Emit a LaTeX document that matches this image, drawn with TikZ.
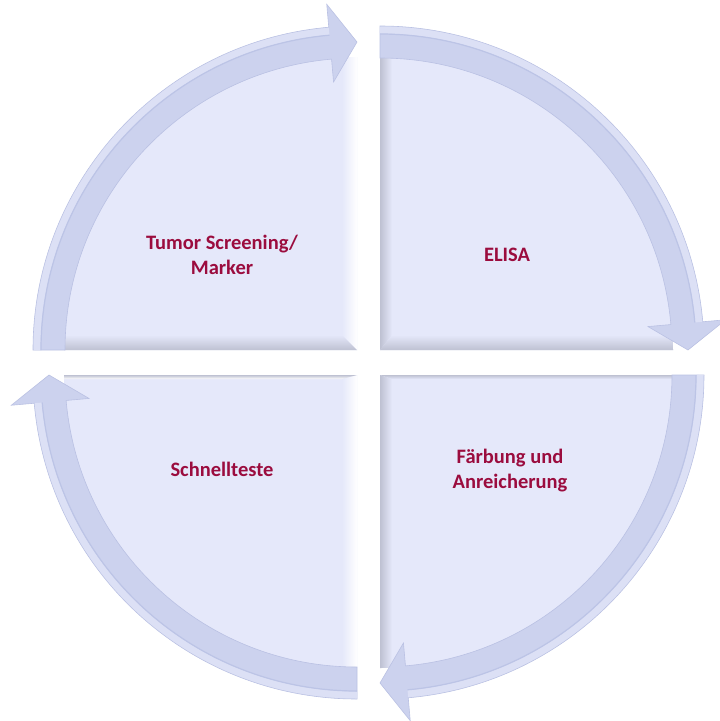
\documentclass[tikz,border=0pt]{standalone}
\usepackage{fontspec}
\setmainfont{Carlito}
\definecolor{sectbase}{RGB}{229,232,250}
\definecolor{sectshadow}{RGB}{190,193,210}
\definecolor{arrowfill}{RGB}{204,210,238}
\definecolor{arrowline}{RGB}{186,193,227}
\definecolor{arrowhigh}{RGB}{220,224,245}
\definecolor{arrowdark}{RGB}{188,196,230}
\definecolor{lbltext}{RGB}{155,12,62}
\tikzset{
  sectorfill/.style={fill=sectbase},
  arrowstyle/.style={fill=arrowfill, draw=arrowline, line width=0.6pt, line join=miter},
  highlight/.style={draw=arrowhigh, line width=7pt},
  darkline/.style={draw=arrowdark, line width=1.2pt},
  lbl/.style={font=\fontsize{20.5}{25}\selectfont\bfseries, text=lbltext, align=center}
}
\newcommand\mysectorclip[2]{%
  \pgfmathsetmacro\mysend{#2-90}%
  \clip (0,0) -- (#2:293pt) arc[start angle=#2, end angle=\mysend, radius=293pt] -- cycle;
  \fill[sectorfill] (-300pt,-300pt) rectangle (300pt,300pt);}
\newcommand\myarrow[2]{%
  \begin{scope}[shift={#1}]
    \pgfmathsetmacro\myend{#2-90}
    \pgfmathsetmacro\myhb{#2-85}
    \filldraw[arrowstyle] (#2:324pt) arc[start angle=#2, end angle=\myhb, radius=324pt]
      -- (\myhb:347pt) -- (\myend:308pt) -- (\myhb:269pt) -- (\myhb:292pt)
      arc[start angle=\myhb, end angle=#2, radius=292pt] -- cycle;
    \draw[highlight] (#2:320pt) arc[start angle=#2, end angle=\myhb, radius=320pt];
    \draw[darkline] (#2:316pt) arc[start angle=#2, end angle=\myhb, radius=316pt];
  \end{scope}}
\begin{document}
\begin{tikzpicture}[x=1pt,y=1pt]
\useasboundingbox (0,0) rectangle (720,-721);
\fill[white] (0,0) rectangle (720,-721);
% top-left sector
\begin{scope}[shift={(357pt,-350pt)}]
  \mysectorclip{0}{180}
  \shade[left color=sectbase, right color=white] (0,0) -- (0,300) -- (-15,300) -- (-15,15) -- cycle;
  \shade[top color=sectbase, bottom color=sectshadow] (0,0) -- (-15,15) -- (-300,15) -- (-300,0) -- cycle;
\end{scope}
% top-right sector
\begin{scope}[shift={(380pt,-350pt)}]
  \mysectorclip{0}{90}
  \shade[left color=sectshadow, right color=sectbase] (0,0) -- (0,300) -- (12,300) -- (12,15) -- cycle;
  \shade[top color=sectbase, bottom color=sectshadow] (0,0) -- (12,15) -- (300,15) -- (300,0) -- cycle;
\end{scope}
% bottom-right sector
\begin{scope}[shift={(380pt,-375pt)}]
  \mysectorclip{0}{0}
  \shade[left color=sectshadow, right color=sectbase] (0,0) -- (0,-300) -- (12,-300) -- (12,-4) -- cycle;
  \shade[top color=sectshadow, bottom color=sectbase] (0,0) -- (12,-4) -- (300,-4) -- (300,0) -- cycle;
\end{scope}
% bottom-left sector
\begin{scope}[shift={(357pt,-375pt)}]
  \mysectorclip{0}{-90}
  \shade[left color=sectbase, right color=white] (0,0) -- (0,-300) -- (-15,-300) -- (-15,-4) -- cycle;
  \shade[top color=sectshadow, bottom color=white] (0,0) -- (-15,-4) -- (-300,-4) -- (-300,0) -- cycle;
\end{scope}
% arrows
\myarrow{(357pt,-350pt)}{180}
\myarrow{(380pt,-350pt)}{90}
\myarrow{(380pt,-375pt)}{0}
\myarrow{(357pt,-375pt)}{-90}
% labels
\node[lbl] (tl) at (222,-255) {Tumor Screening/\\Marker};
\node[lbl] (tr) at (507,-255) {ELISA};
\node[lbl] (bl) at (222,-469) {Schnellteste};
\node[lbl] (br) at (510,-471) {Färbung und\\Anreicherung};
\end{tikzpicture}
\end{document}
